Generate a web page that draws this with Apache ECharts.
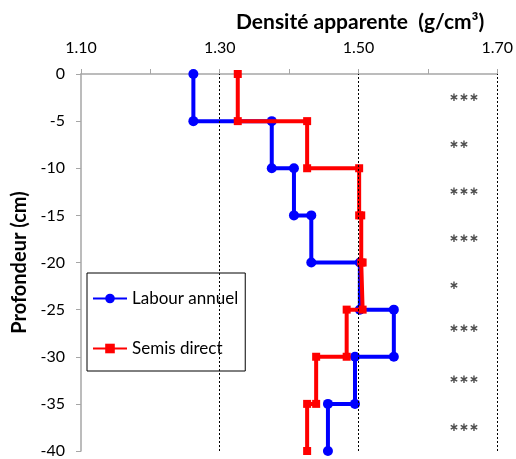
<!DOCTYPE html>
<html>
<head>
<meta charset="utf-8">
<script src="https://cdn.jsdelivr.net/npm/echarts@6/dist/echarts.min.js"></script>
<style>
  html, body { margin: 0; padding: 0; background: #fff; }
  #chart { width: 516px; height: 459px; }
</style>
</head>
<body>
<div id="chart"></div>
<script>
// Layer boundaries (cm, negative = below surface)
const depthBounds = [0, -5, -10, -15, -20, -25, -30, -35, -40];
// Bulk density per layer (g/cm3)
const labourAnnuel = [1.262, 1.375, 1.407, 1.432, 1.502, 1.551, 1.495, 1.456];
const semisDirect  = [1.326, 1.426, 1.501, 1.504, 1.506, 1.483, 1.439, 1.426];
// Significance marks per layer and where they sit
const signifMarks = ['***', '**', '***', '***', '*', '***', '***', '***'];
const signifDepth = [-2.5, -7.5, -12.5, -17.5, -22.5, -27, -32.5, -37.5];
const signifX = 1.63;
// Axis labels and reference lines
const xLabelValues = [1.10, 1.30, 1.50, 1.70];
const xRefLines = [1.30, 1.50, 1.70];

const FONT = 'Lato, "Open Sans", sans-serif';

// Turn per-layer values into a step profile: each layer spans top..bottom
function stepProfile(values) {
  const pts = [];
  values.forEach((v, i) => {
    pts.push([v, depthBounds[i]]);
    pts.push([v, depthBounds[i + 1]]);
  });
  return pts;
}

const chart = echarts.init(document.getElementById('chart'), null, { renderer: 'canvas' });

chart.setOption({
  animation: false,
  backgroundColor: '#fff',
  title: {
    text: 'Densité apparente  (g/cm³)',
    left: 231,
    top: 7,
    textStyle: { fontFamily: FONT, fontSize: 21, fontWeight: 'bold', color: '#000' }
  },
  grid: { left: 81, right: 16, top: 74, bottom: 7 },
  legend: {
    orient: 'vertical',
    left: 87,
    top: 273,
    padding: [17, 7, 14, 5],
    itemWidth: 34,
    itemHeight: 12,
    itemGap: 33,
    backgroundColor: '#fff',
    borderColor: '#000',
    borderWidth: 1,
    borderRadius: 0,
    textStyle: { fontFamily: FONT, fontSize: 17, color: '#000', padding: [0, 0, 0, 0] },
    data: ['Labour annuel', 'Semis direct']
  },
  xAxis: {
    type: 'value',
    position: 'top',
    min: 1.1,
    max: 1.7,
    interval: 0.1,
    axisLine: { show: true, onZero: false, lineStyle: { color: '#a6a6a6', width: 1.5 } },
    axisTick: { show: true, inside: false, length: 5, lineStyle: { color: '#a6a6a6' } },
    splitLine: { show: false },
    axisLabel: {
      margin: 18,
      fontFamily: FONT,
      fontSize: 16,
      color: '#000',
      formatter: function (v) {
        const hit = xLabelValues.some(t => Math.abs(t - v) < 1e-6);
        return hit ? v.toFixed(2) : '';
      }
    }
  },
  yAxis: {
    type: 'value',
    min: -40,
    max: 0,
    interval: 5,
    name: 'Profondeur (cm)',
    nameLocation: 'middle',
    nameRotate: 90,
    nameGap: 47,
    nameTextStyle: { fontFamily: FONT, fontSize: 20, fontWeight: 'bold', color: '#000' },
    axisLine: { show: true, onZero: false, lineStyle: { color: '#a6a6a6', width: 1.5 } },
    axisTick: { show: true, inside: false, length: 5, lineStyle: { color: '#a6a6a6' } },
    splitLine: { show: false },
    axisLabel: { margin: 16, fontFamily: FONT, fontSize: 16, color: '#000' }
  },
  series: [
    {
      name: 'refLines',
      type: 'line',
      data: [],
      silent: true,
      markLine: {
        silent: true,
        symbol: 'none',
        label: { show: false },
        lineStyle: { color: '#000', type: [2, 2], width: 1 },
        data: xRefLines.map(v => ({ xAxis: v }))
      }
    },
    {
      name: 'Labour annuel',
      type: 'line',
      data: stepProfile(labourAnnuel),
      symbol: 'circle',
      symbolSize: 10,
      color: '#0000ff',
      lineStyle: { color: '#0000ff', width: 4 },
      itemStyle: { color: '#0000ff' },
      z: 3
    },
    {
      name: 'Semis direct',
      type: 'line',
      data: stepProfile(semisDirect),
      symbol: 'rect',
      symbolSize: 8,
      color: '#ff0000',
      lineStyle: { color: '#ff0000', width: 4 },
      itemStyle: { color: '#ff0000' },
      z: 4
    },
    {
      name: 'signif',
      type: 'scatter',
      symbolSize: 0,
      silent: true,
      data: signifMarks.map((m, i) => ({ value: [signifX, signifDepth[i]], mark: m })),
      label: {
        show: true,
        position: 'right',
        distance: 0,
        fontFamily: '"DejaVu Sans", sans-serif',
        fontSize: 12,
        fontWeight: 'bold',
        color: '#222',
        formatter: p => p.data.mark.replace(/\*/g, '∗')
      }
    }
  ]
});
</script>
</body>
</html>
